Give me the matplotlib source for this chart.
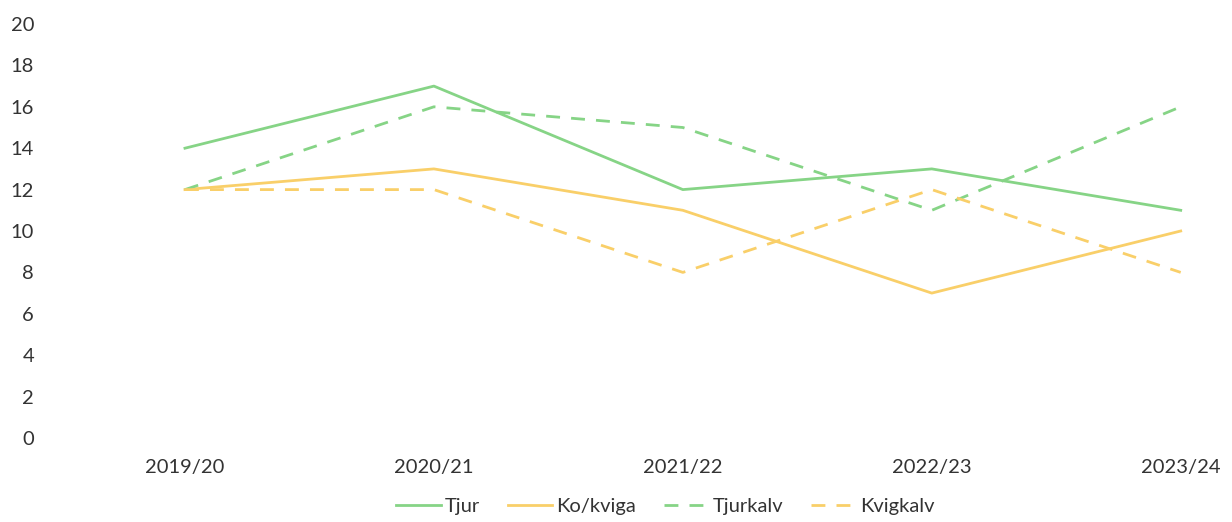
import matplotlib.pyplot as plt

# data
seasons = ["2019/20", "2020/21", "2021/22", "2022/23", "2023/24"]
tjur = [14, 17, 12, 13, 11]
ko_kviga = [12, 13, 11, 7, 10]
tjurkalv = [12, 16, 15, 11, 16]
kvigkalv = [12, 12, 8, 12, 8]

green = '#86d486'
yellow = '#f9cf69'

plt.rcParams['font.family'] = ['Lato', 'DejaVu Sans']

fig = plt.figure(figsize=(12.32, 5.22), dpi=100)
ax = fig.add_axes([60.5 / 1232, 84 / 522, 1170 / 1232, 414 / 522])

x = list(range(len(seasons)))
ax.plot(x, tjur, color=green, lw=2, label="Tjur")
ax.plot(x, ko_kviga, color=yellow, lw=2, label="Ko/kviga")
ax.plot(x, tjurkalv, color=green, lw=2, ls=(0, (5, 4)), label="Tjurkalv")
ax.plot(x, kvigkalv, color=yellow, lw=2, ls=(0, (5, 4)), label="Kvigkalv")

ax.set_xlim(-0.5, 4.2)
ax.set_ylim(0, 20)
ax.set_yticks(range(0, 21, 2))
ax.set_xticks(x)
ax.set_xticklabels(seasons)
ax.tick_params(length=0, labelsize=14.5, colors='#333333')
ax.tick_params(axis='y', pad=19)
ax.tick_params(axis='x', pad=15)
for s in ax.spines.values():
    s.set_visible(False)

fig.legend(loc='center', bbox_to_anchor=(0.54, 0.03), ncol=4, frameon=False,
           fontsize=14.5, handlelength=2.2, handletextpad=0.2, columnspacing=1.4,
           labelcolor='#333333')

fig.savefig('out.png', dpi=100)
